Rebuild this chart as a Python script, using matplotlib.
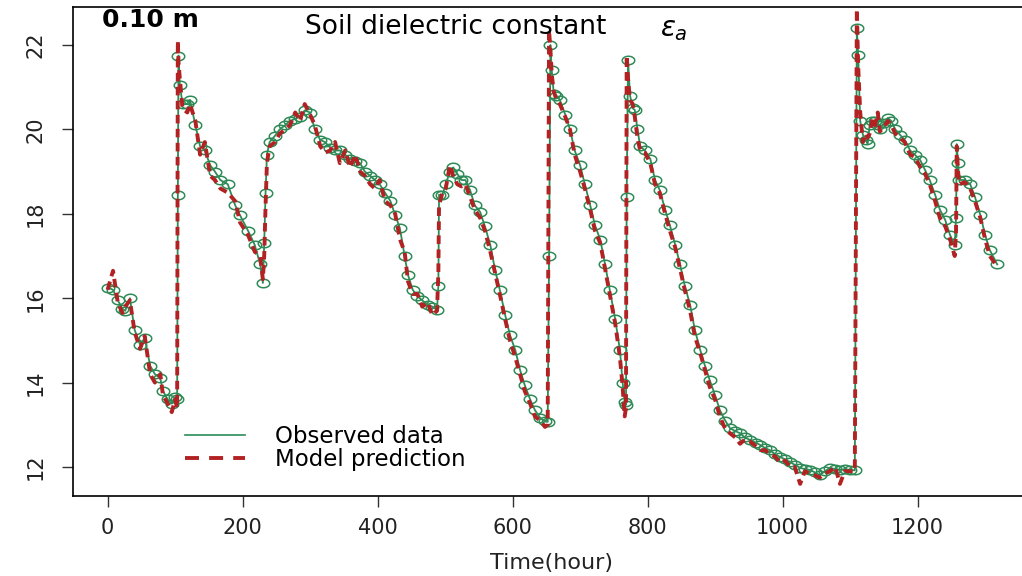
import numpy as np
import matplotlib
matplotlib.use("Agg")
import matplotlib.pyplot as plt
from matplotlib.lines import Line2D

# === Data (hours, dielectric constant) ===
hours = [0, 8, 15, 22, 26, 33, 40, 48, 55, 63, 70, 78, 82, 89, 95, 100, 103, 104, 105,
         107, 111, 118, 122, 130, 137, 144, 152, 159, 167, 178, 189, 196, 208, 218, 226,
         230, 232, 234, 236, 240, 248, 255, 263, 270, 278, 285, 292, 300, 307, 315, 322,
         330, 337, 344, 352, 359, 367, 374, 381, 389, 396, 403, 411, 419, 426, 433, 440,
         445, 452, 459, 466, 474, 481, 488, 490, 491, 496, 501, 507, 512, 518, 524, 530,
         537, 544, 552, 559, 567, 574, 581, 589, 596, 604, 611, 618, 626, 633, 641, 648,
         652, 654, 656, 658, 661, 665, 670, 678, 685, 692, 700, 707, 715, 722, 730, 737,
         744, 752, 759, 763, 766, 768, 769, 771, 774, 778, 781, 785, 789, 796, 804, 811,
         818, 826, 833, 841, 848, 855, 863, 870, 878, 885, 892, 900, 907, 915, 922, 930,
         937, 944, 952, 960, 967, 974, 981, 989, 996, 1004, 1011, 1018, 1026, 1033, 1041,
         1048, 1055, 1063, 1070, 1078, 1085, 1092, 1100, 1107, 1110, 1112, 1115, 1119,
         1123, 1126, 1129, 1133, 1137, 1141, 1144, 1150, 1156, 1161, 1167, 1174, 1181,
         1189, 1196, 1204, 1211, 1218, 1226, 1233, 1241, 1248, 1255, 1257, 1258, 1260,
         1262, 1270, 1278, 1285, 1293, 1300, 1307, 1318]

observed = [16.25, 16.2, 15.95, 15.75, 15.7, 16.0, 15.25, 14.9, 15.05, 14.4, 14.2, 14.1,
            13.8, 13.6, 13.5, 13.65, 13.6, 18.45, 21.75,
            21.05, 20.6, 20.6, 20.7, 20.1, 19.6, 19.5, 19.15, 19.0, 18.8, 18.7, 18.2, 17.97,
            17.6, 17.26, 16.8,
            16.36, 17.3, 18.5, 19.4, 19.7, 19.85, 20.0, 20.1, 20.2, 20.25, 20.3, 20.45, 20.4,
            20.0, 19.75, 19.7,
            19.56, 19.5, 19.5, 19.4, 19.3, 19.25, 19.2, 19.0, 18.9, 18.8, 18.7, 18.5, 18.3,
            17.97, 17.66, 17.0,
            16.55, 16.2, 16.05, 15.95, 15.85, 15.8, 15.72, 16.3, 18.45, 18.45, 18.7, 19.0,
            19.1, 18.95, 18.8, 18.8,
            18.56, 18.2, 18.04, 17.7, 17.26, 16.67, 16.2, 15.6, 15.13, 14.77, 14.3, 13.94,
            13.6, 13.35, 13.16, 13.08,
            13.07, 17.0, 22.0, 21.4, 20.85, 20.8, 20.7, 20.35, 20.0, 19.5, 19.15, 18.7, 18.2,
            17.73, 17.38, 16.8,
            16.2, 15.5, 14.77, 14.0, 13.55, 13.47, 18.4, 21.64, 20.8, 20.5, 20.46, 20.0,
            19.6, 19.5, 19.3, 18.8,
            18.56, 18.1, 17.73, 17.26, 16.8, 16.3, 15.84, 15.25, 14.77, 14.4, 14.06, 13.7,
            13.35, 13.1, 12.92, 12.85,
            12.8, 12.7, 12.64, 12.58, 12.52, 12.45, 12.4, 12.3, 12.24, 12.18, 12.12, 12.05,
            11.98, 11.95, 11.93,
            11.87, 11.81, 11.9, 11.98, 11.95, 11.93, 11.95, 11.93, 11.92, 22.4, 21.76, 20.2,
            19.87,
            19.75, 19.65, 20.1, 20.2, 20.2, 20.1, 20.0, 20.15, 20.27, 20.2, 20.0, 19.87,
            19.75,
            19.5, 19.4, 19.27, 19.04, 18.8, 18.45, 18.1, 17.85, 17.5, 17.26, 17.9, 19.65,
            19.2,
            18.8, 18.8, 18.7, 18.4, 17.97, 17.5, 17.14, 16.8]

predicted = [16.2, 16.65, 15.9, 15.65, 15.8, 15.95, 15.2, 14.8, 15.1, 14.2, 14.0, 14.2,
             13.7, 13.5, 13.3, 13.6, 13.4, 22.1, 21.6,
             21.2, 20.5, 20.4, 20.6, 20.2, 19.4, 19.7, 18.9, 18.8, 18.6, 18.5, 18.3, 17.8,
             17.5, 17.1, 17.0,
             16.45, 17.0, 18.2, 19.2, 19.6, 19.7, 19.9, 20.0, 20.1, 20.4, 20.2, 20.6, 20.35,
             20.1, 19.6, 19.45,
             19.5, 19.7, 19.2, 19.5, 19.1, 19.4, 19.0, 18.9, 18.7, 18.6, 18.8, 18.3, 18.2,
             18.0, 17.4, 17.1,
             16.4, 16.1, 16.1, 15.8, 15.9, 15.6, 15.7, 16.6, 18.2, 18.5, 18.6, 19.15,
             18.9, 18.7, 18.65, 18.7,
             18.4, 18.1, 17.9, 17.6, 17.1, 16.6, 16.1, 15.5, 15.0, 14.6, 14.2, 13.8,
             13.5, 13.2, 13.1, 12.95,
             13.0, 22.35, 21.9, 21.3, 20.9, 20.7, 20.6, 20.3, 20.0, 19.4, 19.0, 18.6, 18.1,
             17.6, 17.3, 16.7,
             16.1, 15.4, 14.6, 13.9, 13.2, 13.4, 21.75, 21.2, 20.7, 20.6, 20.3, 19.8,
             19.5, 19.45, 19.2, 18.7,
             18.5, 18.0, 17.6, 17.2, 16.7, 16.2, 15.7, 15.1, 14.7, 14.3, 13.9, 13.6,
             13.2, 12.9, 12.8, 12.7,
             12.55, 12.65, 12.6, 12.5, 12.4, 12.4, 12.3, 12.25, 12.1, 12.15, 12.0, 12.0,
             11.6, 11.9, 11.85,
             11.8, 11.75, 11.85, 11.9, 12.0, 11.6, 11.9, 11.9, 11.9, 22.85, 21.5, 20.4,
             19.7,
             19.9, 19.8, 19.9, 20.25, 20.1, 20.4, 19.95, 20.05, 20.2, 20.1, 19.9, 19.8,
             19.7,
             19.4, 19.35, 19.1, 18.95, 18.7, 18.3, 17.9, 17.7, 17.4, 17.0, 17.6, 19.6,
             19.0,
             18.7, 18.75, 18.6, 18.3, 17.9, 17.4, 17.0, 16.75]

x_ticks = [0, 200, 400, 600, 800, 1000, 1200]
y_ticks = [12, 14, 16, 18, 20, 22]

GREEN = '#2E8B57'
RED = '#B22222'

plt.rcParams['font.family'] = ['DejaVu Sans']

W, H = 1022, 576
fig = plt.figure(figsize=(W / 100, H / 100), dpi=100)
ax = fig.add_axes([73 / W, (H - 496) / H, 1 - 73 / W, (496 - 7) / H])

# open ellipse marker (R circles look squashed in the stretched picture)
theta = np.linspace(0, 2 * np.pi, 40)
ellipse = np.column_stack([np.cos(theta), 0.68 * np.sin(theta)])

ax.plot(hours, observed, color=GREEN, lw=1.3, marker=ellipse, markersize=9,
        markerfacecolor='none', markeredgecolor=GREEN, markeredgewidth=1.1)
ax.plot(hours, predicted, color=RED, lw=2.8, linestyle=(0, (2.2, 1.4)))

ax.set_xlim(-51.3, 1354.7)
ax.set_ylim(11.313, 22.90)
ax.set_xticks(x_ticks)
ax.set_yticks(y_ticks)
ax.set_yticklabels([str(v) for v in y_ticks], rotation=90, va='center')
ax.tick_params(direction='out', length=8, width=1.0, labelsize=15, color='#333333',
               labelcolor='#222222')
ax.tick_params(axis='x', pad=8)
ax.tick_params(axis='y', pad=12)
ax.spines['right'].set_visible(False)
for s in ['left', 'bottom', 'top']:
    ax.spines[s].set_linewidth(1.2)

fig.text(551 / W, 1 - 563 / H, "Time(hour)", ha='center', va='center',
         fontsize=16, color='#222222')

fig.text(150 / W, 1 - 20 / H, "0.10 m", ha='center', va='center', fontsize=18,
         fontweight='bold')
fig.text(456 / W, 1 - 27 / H, "Soil dielectric constant", ha='center', va='center',
         fontsize=19)
fig.text(674 / W, 1 - 29 / H, r"$\varepsilon_a$", ha='center', va='center', fontsize=20)

# legend: long dashes like R's lty=2
handles = [Line2D([], [], color=GREEN, lw=1.2),
           Line2D([], [], color=RED, lw=2.8, linestyle=(0, (3.6, 2.6)))]
ax.legend(handles, ["Observed data", "Model prediction"], loc='upper left',
          bbox_to_anchor=(174 / W, 1 - 414 / H), bbox_transform=fig.transFigure,
          frameon=False, fontsize=16.5, handlelength=2.6, handletextpad=1.3,
          labelspacing=0.0, borderpad=0.0)

fig.savefig("out.png", dpi=100)
